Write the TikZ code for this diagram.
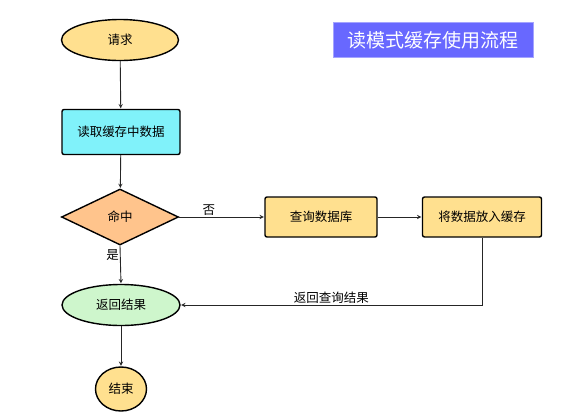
\documentclass[tikz,border=0pt]{standalone}
\usepackage{fontspec}
\setmainfont{Noto Sans CJK SC}
\usepackage{tikz}
\usetikzlibrary{arrows,shapes,positioning,calc}
\usepackage{xcolor}
\definecolor{cfyellow}{RGB}{255, 224, 143}
\definecolor{cfcyan}{RGB}{128, 242, 250}
\definecolor{cforange}{RGB}{255, 196, 140}
\definecolor{cfgreen}{RGB}{206, 246, 204}
\definecolor{cfblue}{RGB}{104, 104, 255}
\tikzstyle{arrow} = [line width=0.9pt,->,>=stealth,color=black!85,shorten >=0.5pt]
\tikzstyle{startstop} = [ellipse, draw, line width=1.4pt, inner sep=0pt, font=\fontsize{12.5}{14}\selectfont]
\tikzstyle{process} = [rectangle, rounded corners=2pt, draw, line width=1.4pt, inner sep=0pt, font=\fontsize{12.5}{14}\selectfont]
\tikzstyle{decision} = [diamond, draw, line width=1.4pt, inner sep=0pt, font=\fontsize{12.5}{14}\selectfont]
\tikzstyle{lbl} = [font=\fontsize{12.5}{14}\selectfont, inner sep=1pt, text=black]

\begin{document}
\begin{tikzpicture}[x=1pt, y=-1pt]
    \useasboundingbox (0,0) rectangle (571,416);

    % Title
    \node[fill=cfblue, draw=cfblue!60, text=white, minimum width=200pt, minimum height=35pt,
          inner sep=0pt, font=\fontsize{19}{22}\selectfont] (title) at (433,40) {读模式缓存使用流程};

    % Main column
    \node[startstop, fill=cfyellow, minimum width=117pt, minimum height=41pt] (req) at (120,40) {请求};
    \node[process, fill=cfcyan, minimum width=118pt, minimum height=45pt] (read) at (121,132) {读取缓存中数据};
    \node[decision, fill=cforange, minimum width=117pt, minimum height=56pt] (hit) at (120,217) {命中};
    \node[startstop, fill=cfgreen, minimum width=118pt, minimum height=41pt] (ret) at (121,305) {返回结果};
    \node[startstop, fill=cfyellow, minimum width=51pt, minimum height=44pt] (done) at (121,389) {结束};

    % Right branch
    \node[process, fill=cfyellow, minimum width=112pt, minimum height=40pt] (query) at (321,217) {查询数据库};
    \node[process, fill=cfyellow, minimum width=119pt, minimum height=40pt] (put) at (482,217) {将数据放入缓存};

    % Connectors
    \draw[arrow] (req) -- (read);
    \draw[arrow] (read) -- (hit);
    \draw[arrow] (hit.south) -- (ret.north) node[lbl, pos=0.25, left] {是};
    \draw[arrow] (hit.east) -- (query.west) node[lbl, pos=0.35, above] {否};
    \draw[arrow] (query) -- (put);
    \coordinate (turn) at (put.south |- ret.east);
    \draw[arrow] (put.south) -- (turn) -- (ret.east) node[lbl, pos=0.5, above] {返回查询结果};
    \draw[arrow] (ret) -- (done);
\end{tikzpicture}
\end{document}
